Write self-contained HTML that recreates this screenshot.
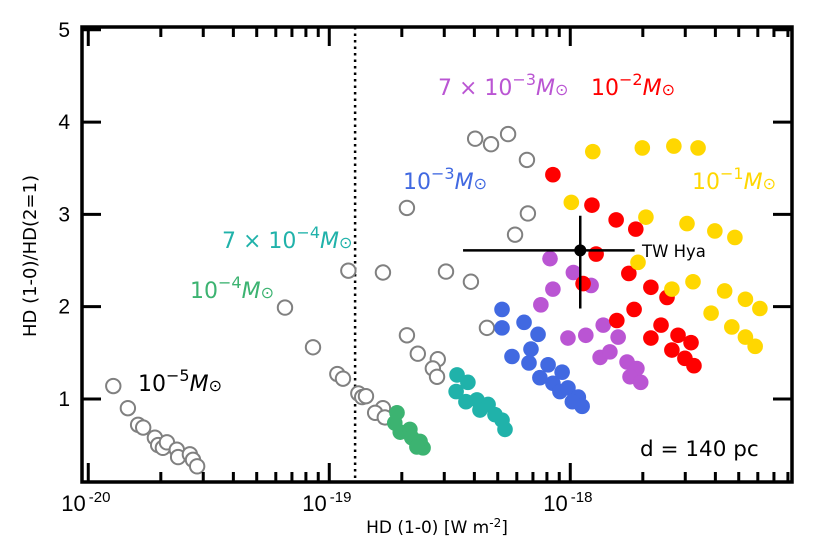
<!DOCTYPE html>
<html><head><meta charset="utf-8"><style>
body{margin:0;background:#fff}
svg{display:block;font-family:"Liberation Sans","DejaVu Sans",sans-serif}
.dv{font-family:"DejaVu Sans","Liberation Sans",sans-serif}
</style></head><body>
<svg id="chart" width="830" height="548" viewBox="0 0 830 548" xmlns="http://www.w3.org/2000/svg"></svg>
<script>
const grayX=[1.27e-20,1.46e-20,1.61e-20,1.69e-20,1.89e-20,1.95e-20,2.04e-20,2.12e-20,2.33e-20,2.36e-20,2.64e-20,2.72e-20,2.83e-20,
6.55e-20,8.56e-20,1.08e-19,1.14e-19,1.20e-19,1.67e-19,1.32e-19,1.37e-19,1.42e-19,1.67e-19,1.55e-19,1.70e-19,2.10e-19,2.33e-19,2.82e-19,2.69e-19,2.80e-19,3.05e-19,3.87e-19,4.03e-19,4.69e-19,5.52e-19,6.61e-19,2.10e-19,6.67e-19,5.90e-19,4.51e-19];
const grayY=[1.14,0.90,0.72,0.69,0.58,0.50,0.47,0.53,0.45,0.37,0.40,0.34,0.27,
1.99,1.56,1.27,1.22,2.39,2.37,1.06,1.02,1.03,0.90,0.85,0.80,1.69,1.49,1.43,1.33,1.24,2.38,2.27,3.82,3.76,3.87,3.59,3.07,3.01,2.78,1.77];
const greenX=[1.91e-19,1.87e-19,1.97e-19,2.16e-19,2.20e-19,2.38e-19,2.45e-19,2.31e-19];
const greenY=[0.85,0.74,0.64,0.67,0.58,0.54,0.47,0.48];
const tealX=[3.39e-19,3.76e-19,3.36e-19,3.69e-19,4.10e-19,4.56e-19,4.22e-19,4.87e-19,5.21e-19,5.36e-19];
const tealY=[1.26,1.18,1.08,0.97,0.99,0.94,0.88,0.83,0.77,0.67];
const blueX=[5.21e-19,5.21e-19,6.43e-19,7.35e-19,5.73e-19,6.87e-19,6.74e-19,8.09e-19,9.25e-19,7.48e-19,8.47e-19,9.06e-19,9.78e-19,1.08e-18,1.12e-18,1.02e-18];
const blueY=[1.97,1.77,1.83,1.70,1.46,1.54,1.39,1.37,1.29,1.23,1.17,1.08,1.12,1.02,0.92,0.97];
const purpleX=[8.24e-19,1.03e-18,1.22e-18,8.47e-19,7.55e-19,9.78e-19,1.16e-18,1.37e-18,1.58e-18,1.33e-18,1.46e-18,1.72e-18,1.89e-18,1.77e-18,1.96e-18];
const purpleY=[2.52,2.37,2.23,2.19,2.02,1.66,1.69,1.80,1.67,1.45,1.51,1.40,1.33,1.24,1.18];
const redX=[8.47e-19,1.23e-18,1.55e-18,1.87e-18,1.28e-18,1.13e-18,1.75e-18,2.16e-18,2.52e-18,1.84e-18,1.56e-18,2.38e-18,2.80e-18,3.17e-18,2.16e-18,2.64e-18,2.99e-18,3.26e-18];
const redY=[3.43,3.10,2.94,2.84,2.57,2.25,2.36,2.21,2.10,1.97,1.85,1.80,1.69,1.61,1.66,1.53,1.44,1.36];
const goldX=[1.24e-18,1.99e-18,2.69e-18,3.39e-18,1.01e-18,2.06e-18,3.05e-18,3.98e-18,4.82e-18,1.91e-18,3.23e-18,2.64e-18,4.37e-18,5.33e-18,6.12e-18,3.84e-18,4.68e-18,5.33e-18,5.85e-18];
const goldY=[3.68,3.72,3.74,3.72,3.13,2.97,2.90,2.82,2.75,2.48,2.27,2.19,2.17,2.08,1.98,1.93,1.78,1.67,1.57];
const twX=[1.10e-18], twY=[2.61], twXlo=[3.59e-19], twXhi=[1.85e-18], twYlo=[1.98], twYhi=[2.985];
const dottedX=[1.28e-19];
const xTickVals=[1e-20,1e-19,1e-18], xTickExp=["-20","-19","-18"];
const yTickVals=[1,2,3,4,5];

const L=82,R=792,T=27,B=482;
const xMinL=-20.026,xMaxL=-17.080,yMin=0.1,yMax=5.0;
const X=v=>L+(Math.log10(v)-xMinL)/(xMaxL-xMinL)*(R-L);
const Y=v=>B-(v-yMin)/(yMax-yMin)*(B-T-2.8);
const svg=document.getElementById('chart');
const NS='http://www.w3.org/2000/svg';
function mk(tag,at,parent){const e=document.createElementNS(NS,tag);for(const k in at)e.setAttribute(k,at[k]);(parent||svg).appendChild(e);return e;}

const dl=mk('line',{x1:X(dottedX[0]),x2:X(dottedX[0]),y1:T,y2:B,stroke:'#000','stroke-width':2.5,'stroke-dasharray':'2.5,4'});



function series(xs,ys,fill,name){
  const g=mk('g',{});
  
  
  xs.forEach((x,i)=>{
    const c=mk('circle',{cx:X(x),cy:Y(ys[i]),r:fill?7.8:7.2,fill:fill||'#fff',stroke:fill?'none':'#808080','stroke-width':fill?0:2},g);
    
    
  });
}
series(grayX,grayY,null,'gray-open-series');
series(greenX,greenY,'#3cb371','green-series');
series(tealX,tealY,'#20b2aa','teal-series');
series(blueX,blueY,'#4169e1','blue-series');
series(purpleX,purpleY,'#ba55d3','purple-series');
series(redX,redY,'#ff0000','red-series');
series(goldX,goldY,'#ffd700','gold-series');

const tw=mk('g',{});


mk('line',{x1:X(twXlo[0]),x2:X(twXhi[0]),y1:Y(twY[0]),y2:Y(twY[0]),stroke:'#000','stroke-width':2.5},tw);
mk('line',{x1:X(twX[0]),x2:X(twX[0]),y1:Y(twYlo[0]),y2:Y(twYhi[0]),stroke:'#000','stroke-width':2.5},tw);
mk('circle',{cx:X(twX[0]),cy:Y(twY[0]),r:6,fill:'#000'},tw);

const fr=mk('rect',{x:L,y:T,width:R-L,height:B-T,fill:'none',stroke:'#000','stroke-width':3.5});



for(let e=-21;e<=-17;e++){
  for(let m=1;m<10;m++){
    const v=m*Math.pow(10,e);const lv=Math.log10(v);
    if(lv<xMinL||lv>xMaxL)continue;
    const x=X(v),len=m===1?19:10;
    mk('line',{x1:x,x2:x,y1:B,y2:B-len,stroke:'#000','stroke-width':3});
    mk('line',{x1:x,x2:x,y1:T,y2:T+len,stroke:'#000','stroke-width':3});
  }
}
xTickVals.forEach((v,i)=>{
  const t=mk('text',{x:X(v)-27,y:511,'font-size':22,fill:'#000'});
  
  
  t.textContent='10';
  const s=mk('tspan',{dx:3,dy:-9,'font-size':15},t);s.textContent=xTickExp[i];
});
yTickVals.forEach(v=>{
  const y=Y(v);
  mk('line',{x1:L,x2:L+19,y1:y,y2:y,stroke:'#000','stroke-width':3});
  mk('line',{x1:R,x2:R-19,y1:y,y2:y,stroke:'#000','stroke-width':3});
  const t=mk('text',{x:70,y:y+7,'font-size':21,'text-anchor':'end',fill:'#000'});
  
  
  t.textContent=v;
});
</script>
<div style="position:absolute;left:0;top:0;width:830px;height:548px;pointer-events:none">
<svg width="830" height="548" class="dv">
<text x="437" y="533" font-size="17" text-anchor="middle">HD (1-0) [W m<tspan dy="-6" font-size="12">-2</tspan><tspan dy="6">]</tspan></text>
<text transform="translate(36,256) rotate(-90)" font-size="18" text-anchor="middle">HD (1-0)/HD(2=1)</text>
<text x="138" y="391" font-size="22" fill="#000">10<tspan dy="-10" font-size="16">−5</tspan><tspan dy="10" font-style="italic">M</tspan><tspan font-size="16">⊙</tspan></text>
<text x="190" y="298" font-size="22" fill="#3cb371">10<tspan dy="-10" font-size="16">−4</tspan><tspan dy="10" font-style="italic">M</tspan><tspan font-size="16">⊙</tspan></text>
<text x="222" y="248" font-size="22" fill="#20b2aa">7 × 10<tspan dy="-10" font-size="16">−4</tspan><tspan dy="10" font-style="italic">M</tspan><tspan font-size="16">⊙</tspan></text>
<text x="403" y="189" font-size="22" fill="#4169e1">10<tspan dy="-10" font-size="16">−3</tspan><tspan dy="10" font-style="italic">M</tspan><tspan font-size="16">⊙</tspan></text>
<text x="438" y="95" font-size="22" fill="#ba55d3">7 × 10<tspan dy="-10" font-size="16">−3</tspan><tspan dy="10" font-style="italic">M</tspan><tspan font-size="16">⊙</tspan></text>
<text x="591" y="95" font-size="22" fill="#ff0000">10<tspan dy="-10" font-size="16">−2</tspan><tspan dy="10" font-style="italic">M</tspan><tspan font-size="16">⊙</tspan></text>
<text x="692" y="189" font-size="22" fill="#ffd700">10<tspan dy="-10" font-size="16">−1</tspan><tspan dy="10" font-style="italic">M</tspan><tspan font-size="16">⊙</tspan></text>
<text x="642" y="257" font-size="16.5">TW Hya</text>
<text x="640" y="456" font-size="21.5">d = 140 pc</text>
</svg></div>
</body></html>
